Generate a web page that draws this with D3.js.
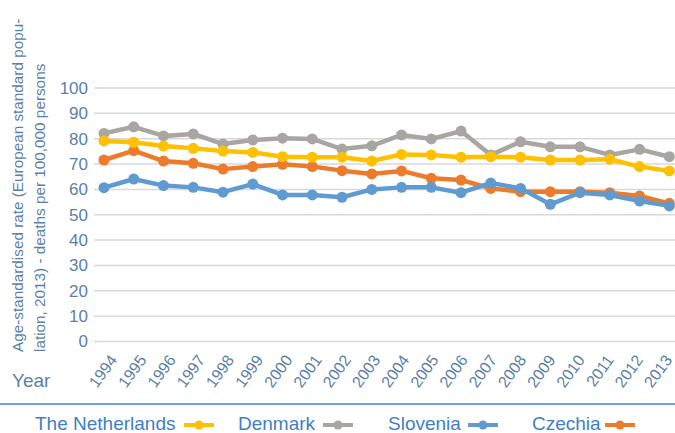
<!DOCTYPE html>
<html><head><meta charset="utf-8">
<script src="https://cdn.jsdelivr.net/npm/d3@7"></script>
<style>
html,body{margin:0;padding:0;background:#fff;}
svg{display:block;font-family:"Liberation Sans",Arial,sans-serif;}
</style></head>
<body>
<svg id="chart" width="675" height="433"></svg>
<script>
const years = ["1994","1995","1996","1997","1998","1999","2000","2001","2002","2003","2004","2005","2006","2007","2008","2009","2010","2011","2012","2013"];
const netherlands = [79.1,78.6,77.1,76.2,75.1,74.6,72.9,72.7,72.7,71.2,73.8,73.6,72.7,72.9,72.7,71.6,71.6,71.9,69.0,67.3];
const denmark     = [82.1,84.7,81.1,81.9,77.9,79.5,80.2,79.9,75.9,77.2,81.5,79.9,83.0,73.6,78.8,76.8,76.8,73.6,75.8,72.9];
const slovenia    = [60.7,64.1,61.5,60.8,58.9,62.1,57.8,57.8,56.9,60.0,60.8,60.8,58.7,62.5,60.4,54.1,58.7,57.8,55.4,53.5];
const czechia     = [71.6,75.3,71.2,70.3,68.0,69.0,69.9,69.0,67.4,66.1,67.3,64.4,63.7,60.4,59.1,59.1,59.1,58.7,57.4,54.5];
const yTicks = [0,10,20,30,40,50,60,70,80,90,100];
const legendNames = ["The Netherlands","Denmark","Slovenia","Czechia"];

const colors = {"The Netherlands":"#ffc000","Denmark":"#a9a6a1","Slovenia":"#5f9bd1","Czechia":"#ec7c2c"};
const seriesData = {"The Netherlands":netherlands,"Denmark":denmark,"Slovenia":slovenia,"Czechia":czechia};
const drawOrder = ["Czechia","Slovenia","Denmark","The Netherlands"];

const svg = d3.select("#chart");
const x = d3.scalePoint().domain(years).range([89.1, 684.2]).padding(0.5);
const xLabel = d3.scalePoint().domain(years).range([118, 673]);
const y = d3.scaleLinear().domain([0,100]).range([341.5, 88]);
const axisColor = "#5b7fa8";

// gridlines
svg.append("g").selectAll("line").data(yTicks).join("line")
  .attr("x1",94).attr("x2",675)
  .attr("y1",d=>y(d)).attr("y2",d=>y(d))
  .attr("stroke","#d9d9d9").attr("stroke-width",1.5);

// y axis labels
const yAxis = svg.append("g").attr("transform","translate(92,0)")
  .call(d3.axisLeft(y).tickValues(yTicks).tickSize(0).tickPadding(4));
yAxis.select(".domain").remove();
yAxis.selectAll("text").attr("fill",axisColor).style("font-size","17px")
  .style("font-family","'Liberation Sans',Arial,sans-serif");

// x labels
svg.append("g").selectAll("text").data(years).join("text")
  .attr("transform",d=>`translate(${xLabel(d)},360) rotate(-54)`)
  .attr("text-anchor","end")
  .attr("fill",axisColor).style("font-size","16px")
  .text(d=>d);

// axis title
const title = svg.append("text").attr("transform","translate(0,352) rotate(-90)")
  .attr("fill",axisColor).style("font-size","15.3px");
title.append("tspan").attr("x",0).attr("y",23).text("Age-standardised rate (European standard popu-");
title.append("tspan").attr("x",0).attr("y",45).text("lation, 2013) - deaths per 100,000 persons");

svg.append("text").attr("x",12).attr("y",387).attr("fill",axisColor)
  .style("font-size","19px").text("Year");

// lines
const line = d3.line().x((d,i)=>x(years[i])).y(d=>y(d));
drawOrder.forEach(name=>{
  const g = svg.append("g");
  g.append("path").datum(seriesData[name]).attr("d",line)
    .attr("fill","none").attr("stroke",colors[name]).attr("stroke-width",4.5)
    .attr("stroke-linejoin","round");
  g.selectAll("circle").data(seriesData[name]).join("circle")
    .attr("cx",(d,i)=>x(years[i])).attr("cy",d=>y(d)).attr("r",5.5)
    .attr("fill",colors[name]);
});

// separator line
svg.append("line").attr("x1",0).attr("x2",675).attr("y1",404).attr("y2",404)
  .attr("stroke","#4a87c8").attr("stroke-width",1.5);

// legend
const legendX = [35, 238, 388, 532];
const markerX = [184, 323, 468, 605];
legendNames.forEach((name,i)=>{
  svg.append("text").attr("x",legendX[i]).attr("y",430)
    .attr("fill","#3f80c4").style("font-size","19px").text(name);
  svg.append("line").attr("x1",markerX[i]).attr("x2",markerX[i]+30)
    .attr("y1",425).attr("y2",425).attr("stroke",colors[name]).attr("stroke-width",4);
  svg.append("circle").attr("cx",markerX[i]+15).attr("cy",425).attr("r",4.5)
    .attr("fill",colors[name]);
});
</script>
</body></html>
